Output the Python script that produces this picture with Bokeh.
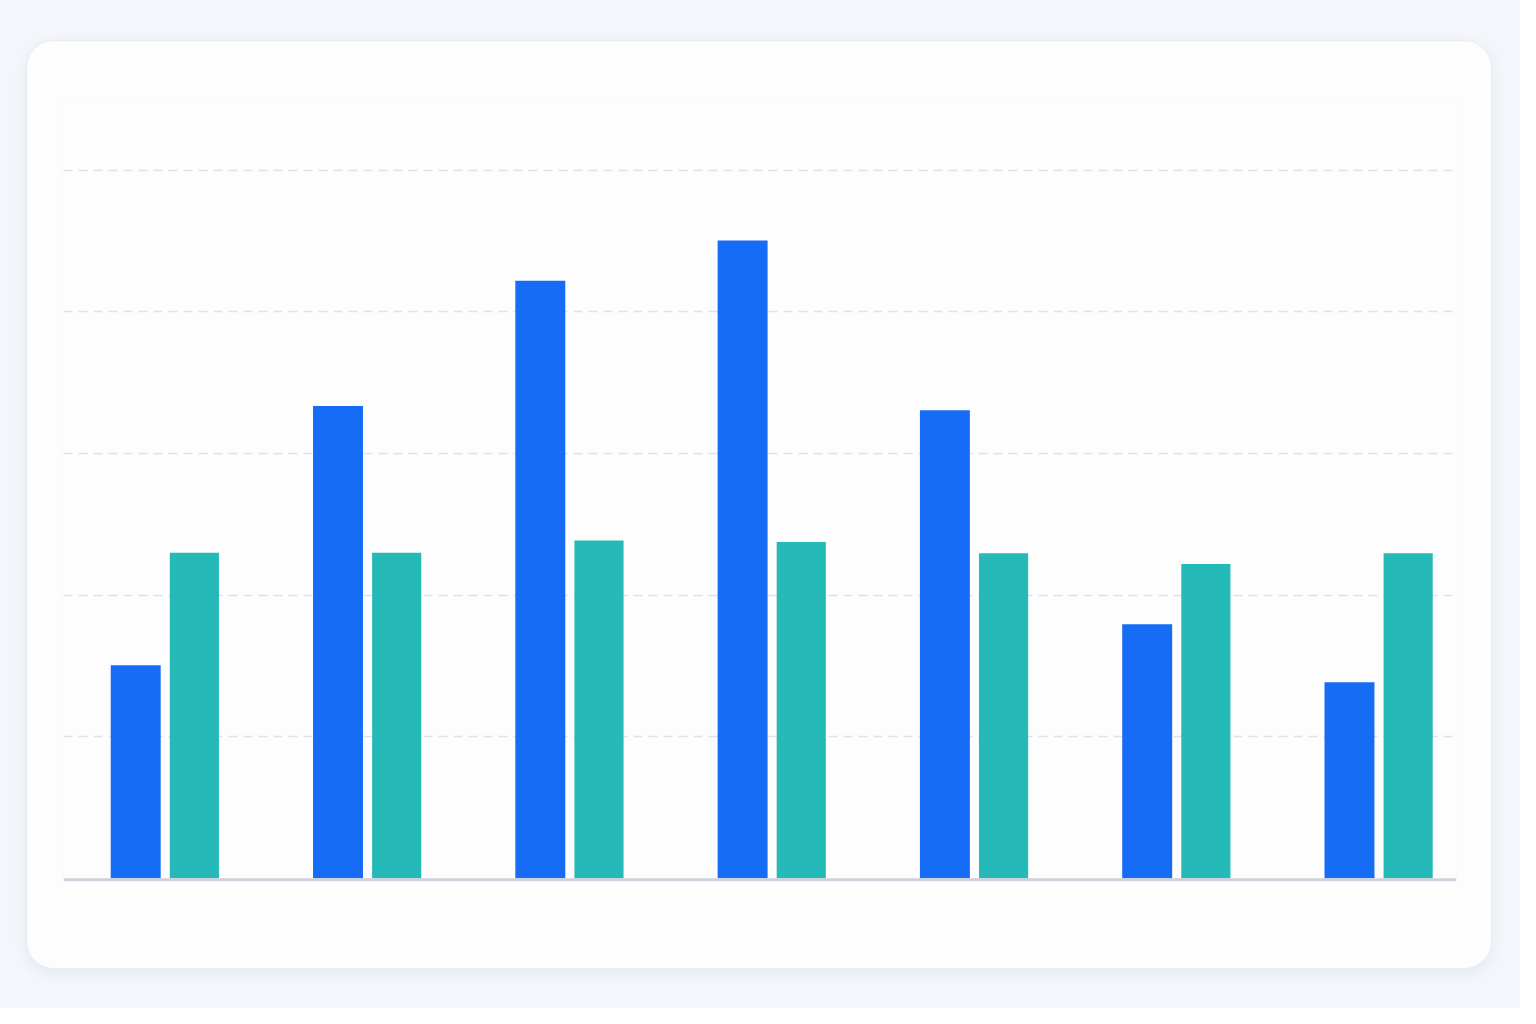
from bokeh.plotting import figure
from bokeh.models import Range1d, Grid, FixedTicker, Span, ColumnDataSource
from bokeh.layouts import column
from bokeh.transform import dodge
from bokeh.embed import file_html
from bokeh.resources import INLINE

groups = [0, 1, 2, 3, 4, 5, 6]
series_a = [30.1, 66.7, 84.4, 90.1, 66.1, 35.9, 27.7]
series_b = [46.0, 46.0, 47.7, 47.5, 45.9, 44.4, 45.9]
grid_ticks = [20, 40, 60, 80, 100]

src = ColumnDataSource(dict(g=groups, a=series_a, b=series_b))

p = figure(width=1466, height=929, output_backend="svg", toolbar_location=None,
           x_axis_type=None, y_axis_type=None,
           x_range=Range1d(-0.502, 6.384), y_range=Range1d(-0.45, 110),
           min_border_left=36, min_border_right=37, min_border_top=58, min_border_bottom=89,
           background_fill_color="#fdfdfe", border_fill_color="#fdfdfe",
           outline_line_color=None,
           styles={"border-radius": "28px", "overflow": "hidden",
                   "box-shadow": "0 4px 14px rgba(40,60,110,0.08)",
                   "border": "1px solid #e7ebf3",
                   "margin-left": "26px", "margin-top": "40px"})
p.xgrid.visible = False
p.add_layout(Grid(dimension=1, ticker=FixedTicker(ticks=grid_ticks),
                  grid_line_color="#dde1e8", grid_line_dash="9 6", grid_line_width=1.5))

p.vbar(x=dodge("g", -0.145, range=p.x_range), top="a", width=0.247, source=src,
       fill_color="#166cf5", line_color=None)
p.vbar(x=dodge("g", 0.145, range=p.x_range), top="b", width=0.243, source=src,
       fill_color="#25bab7", line_color=None)
p.add_layout(Span(location=-0.22, dimension="width", line_color="#cdd1dc", line_width=3))

layout = column(p, width=1520, height=1008, styles={"background": "#f4f6fb"})
open("out.html", "w").write(file_html(layout, INLINE))
